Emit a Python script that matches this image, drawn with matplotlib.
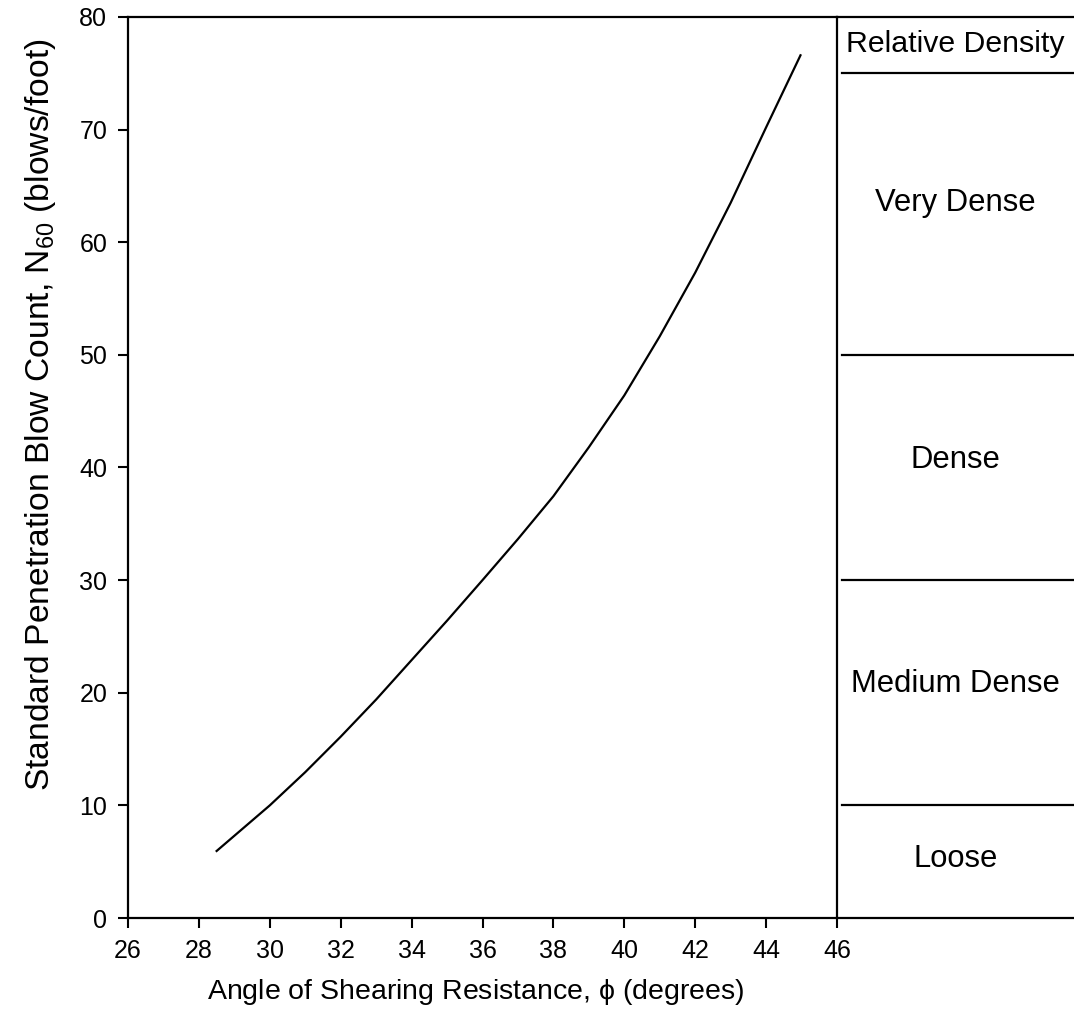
import matplotlib
matplotlib.use("Agg")
import matplotlib.pyplot as plt

plt.rcParams['font.family'] = ['Liberation Sans', 'DejaVu Sans']
plt.rcParams['mathtext.fontset'] = 'custom'
plt.rcParams['mathtext.rm'] = 'Liberation Sans'
plt.rcParams['mathtext.it'] = 'Liberation Sans'

# Friction angle (degrees) vs. SPT blow count N60
phi_deg = [28.5, 29.0, 30.0, 31.0, 32.0, 33.0, 34.0, 35.0, 36.0, 37.0,
           38.0, 39.0, 40.0, 41.0, 42.0, 43.0, 44.0, 44.5, 44.97]
n60 = [5.95, 7.3, 10.0, 12.95, 16.1, 19.4, 22.9, 26.4, 30.0, 33.65,
       37.45, 41.8, 46.4, 51.65, 57.3, 63.5, 70.2, 73.5, 76.6]

x_ticks = [26, 28, 30, 32, 34, 36, 38, 40, 42, 44, 46]
y_ticks = [0, 10, 20, 30, 40, 50, 60, 70, 80]

# Relative density classes (N60 bounds) and header
density_bounds = [10, 30, 50, 75]
density_labels = ["Loose", "Medium Dense", "Dense", "Very Dense"]
density_label_y = [5.2, 20.8, 40.7, 63.5]
header_text = "Relative Density"

W, H = 1074, 1033
fig = plt.figure(figsize=(W / 100, H / 100), dpi=100)

left, right_main, bottom, top = 128 / W, 837 / W, 115 / H, 1016 / H
ax = fig.add_axes([left, bottom, right_main - left, top - bottom])
ax.plot(phi_deg, n60, color='black', lw=1.6, solid_joinstyle='round')
ax.set_xlim(26, 46)
ax.set_ylim(0, 80)
ax.set_xticks(x_ticks)
ax.set_yticks(y_ticks)
ax.tick_params(direction='out', length=7, width=1.5, labelsize=18, pad=8)
for s in ax.spines.values():
    s.set_linewidth(1.6)
ax.set_xlabel(r"Angle of Shearing Resistance, $\phi$ (degrees)", fontsize=20.5)
ax.set_ylabel(r"Standard Penetration Blow Count, N$_{60}$ (blows/foot)", fontsize=24.2)
ax.xaxis.set_label_coords(0.491, -0.066)
ax.yaxis.set_label_coords(-0.0987, 0.559)

# Side panel with density classes
axr = fig.add_axes([right_main, bottom, 1 - right_main, top - bottom], sharey=ax)
axr.patch.set_visible(False)
axr.set_xlim(0, 1)
axr.set_ylim(0, 80)
axr.tick_params(left=False, labelleft=False, bottom=False, labelbottom=False)
axr.spines['right'].set_visible(False)
axr.spines['left'].set_visible(False)
for s in ('top', 'bottom'):
    axr.spines[s].set_linewidth(1.6)
for b in density_bounds:
    axr.axhline(b, color='black', lw=1.6, xmin=0.02)
for lab, yy in zip(density_labels, density_label_y):
    axr.text(0.5, yy, lab, ha='center', va='center', fontsize=22.3)
axr.text(0.5, 77.6, header_text, ha='center', va='center', fontsize=21.8)

fig.savefig("out.png", dpi=100)
